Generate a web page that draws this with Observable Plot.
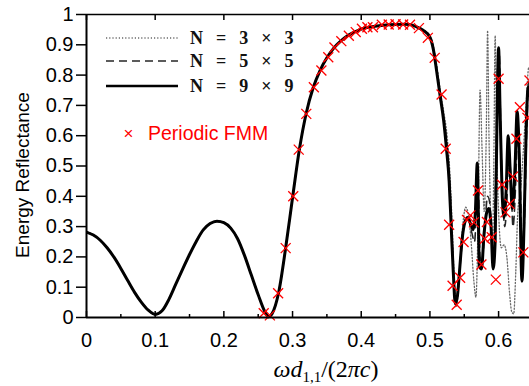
<!DOCTYPE html>
<html><head><meta charset="utf-8">
<script src="https://cdn.jsdelivr.net/npm/d3@7"></script>
<script src="https://cdn.jsdelivr.net/npm/@observablehq/plot@0.6"></script>
<style>body{margin:0;background:#fff;} svg{display:block;}</style>
</head><body><div id="chart"></div>
<script>
// ---- data ----
const xTicks = [0, 0.1, 0.2, 0.3, 0.4, 0.5, 0.6];
const xMinorTicks = [0.05, 0.15, 0.25, 0.35, 0.45, 0.55];
const yTicks = [0, 0.1, 0.2, 0.3, 0.4, 0.5, 0.6, 0.7, 0.8, 0.9, 1];
const seriesNames = ["N = 3 × 3", "N = 5 × 5", "N = 9 × 9"];
const fmmName = "Periodic FMM";

// shared smooth part (all N coincide)
const smoothX = [0,0.01,0.02,0.03,0.04,0.05,0.06,0.07,0.08,0.09,0.10,0.11,0.12,0.13,0.14,0.15,0.16,0.17,0.18,0.19,0.20,0.21,0.22,0.23,0.24,0.25,0.26,0.265,0.27,0.28,0.29,0.30,0.31,0.32,0.33,0.34,0.35,0.36,0.37,0.38,0.39,0.40,0.42,0.44,0.46,0.47,0.48,0.49];
const smoothY = [0.282,0.272,0.255,0.230,0.199,0.162,0.122,0.083,0.050,0.024,0.010,0.022,0.060,0.110,0.160,0.208,0.252,0.289,0.310,0.318,0.313,0.295,0.260,0.205,0.140,0.075,0.018,0.003,0.012,0.085,0.230,0.395,0.555,0.675,0.758,0.815,0.857,0.889,0.912,0.930,0.942,0.952,0.961,0.966,0.968,0.967,0.960,0.948];

// N = 3x3 (dotted) beyond the band edge
const n3X = [0.500,0.505,0.510,0.515,0.520,0.525,0.529,0.532,0.535,0.538,0.541,0.545,0.549,0.552,0.556,0.560,0.564,0.567,0.570,0.573,0.576,0.579,0.582,0.584,0.586,0.589,0.591,0.593,0.595,0.597,0.600,0.604,0.608,0.612,0.616,0.619,0.622,0.625,0.628,0.632,0.636,0.640,0.644,0.648];
const n3Y = [0.930,0.895,0.830,0.750,0.680,0.600,0.480,0.330,0.150,0.034,0.080,0.220,0.330,0.364,0.340,0.250,0.120,0.067,0.300,0.750,0.550,0.350,0.600,0.947,0.600,0.300,0.220,0.500,0.930,0.600,0.350,0.230,0.240,0.200,0.080,0.020,0.012,0.150,0.350,0.420,0.550,0.700,0.826,0.800];

// N = 5x5 (dashed)
const n5X = [0.500,0.505,0.510,0.515,0.520,0.525,0.529,0.532,0.535,0.538,0.541,0.545,0.549,0.553,0.557,0.561,0.565,0.568,0.570,0.573,0.576,0.580,0.584,0.587,0.590,0.593,0.596,0.599,0.601,0.603,0.606,0.609,0.612,0.615,0.618,0.621,0.625,0.628,0.631,0.635,0.638,0.641,0.644,0.648];
const n5Y = [0.928,0.890,0.820,0.740,0.660,0.570,0.440,0.280,0.120,0.050,0.090,0.200,0.290,0.330,0.320,0.280,0.250,0.380,0.470,0.200,0.180,0.300,0.400,0.380,0.260,0.190,0.500,0.850,0.870,0.620,0.400,0.300,0.380,0.550,0.450,0.300,0.450,0.640,0.500,0.180,0.350,0.620,0.780,0.740];

// N = 9x9 (solid)
const n9X = [0.500,0.505,0.510,0.515,0.520,0.524,0.528,0.531,0.534,0.537,0.540,0.543,0.547,0.551,0.555,0.559,0.563,0.566,0.569,0.572,0.575,0.579,0.583,0.586,0.589,0.592,0.595,0.598,0.600,0.602,0.605,0.608,0.611,0.614,0.617,0.620,0.624,0.627,0.630,0.634,0.637,0.640,0.643,0.648];
const n9Y = [0.925,0.885,0.810,0.730,0.650,0.560,0.450,0.300,0.150,0.045,0.070,0.150,0.260,0.315,0.330,0.310,0.290,0.340,0.510,0.170,0.160,0.280,0.350,0.360,0.300,0.160,0.250,0.700,0.890,0.700,0.420,0.330,0.420,0.600,0.480,0.360,0.500,0.680,0.540,0.120,0.300,0.600,0.760,0.700];

// Periodic FMM markers
const fmmX = [0.258,0.267,0.279,0.290,0.301,0.309,0.320,0.331,0.342,0.352,0.361,0.371,0.382,0.392,0.401,0.409,0.417,0.430,0.440,0.450,0.461,0.471,0.484,0.497,0.507,0.517,0.523,0.528,0.533,0.539,0.544,0.549,0.554,0.559,0.564,0.570,0.575,0.580,0.583,0.590,0.596,0.600,0.605,0.610,0.616,0.621,0.626,0.631,0.636,0.642,0.645];
const fmmY = [0.014,0.007,0.080,0.229,0.400,0.554,0.672,0.760,0.815,0.859,0.891,0.912,0.930,0.942,0.953,0.958,0.958,0.966,0.967,0.968,0.967,0.966,0.955,0.923,0.857,0.736,0.557,0.306,0.105,0.042,0.131,0.249,0.322,0.337,0.314,0.419,0.175,0.260,0.315,0.265,0.125,0.788,0.438,0.347,0.375,0.465,0.590,0.694,0.215,0.659,0.782];

// ---- build tables ----
const smooth = smoothX.map((x, i) => ({x, y: smoothY[i]}));
const mk = (xs, ys) => smooth.concat(xs.map((x, i) => ({x, y: ys[i]})));
const n3 = mk(n3X, n3Y), n5 = mk(n5X, n5Y), n9 = mk(n9X, n9Y);
const fmm = fmmX.map((x, i) => ({x, y: fmmY[i]}));
const fmt = d => String(+d.toFixed(2));

const styles = [
  {stroke: "#6a6a6a", strokeWidth: 1.3, strokeDasharray: "1.2 2"},
  {stroke: "#262626", strokeWidth: 1.6, strokeDasharray: "8 5"},
  {stroke: "#000", strokeWidth: 3, strokeDasharray: null}
];

const chart = Plot.plot({
  width: 529, height: 386,
  marginLeft: 86, marginRight: 0, marginTop: 14, marginBottom: 69,
  x: {domain: [0, 0.645], label: null},
  y: {domain: [0, 1], label: null},
  style: {fontFamily: "'Liberation Sans', Arial, sans-serif", fontSize: "20px", color: "#000", background: "#fff"},
  marks: [
    Plot.axisY({ticks: yTicks, tickSize: 10, tickPadding: 3, tickFormat: fmt, label: null, strokeWidth: 1.5}),
    Plot.axisX({ticks: xTicks, tickSize: 0, tickPadding: 15, tickFormat: fmt, label: null}),
    Plot.axisX({ticks: xTicks, tickSize: -6, tickFormat: () => "", label: null, strokeWidth: 1.5}),
    Plot.axisX({ticks: xMinorTicks, tickSize: -3, tickFormat: () => "", label: null, strokeWidth: 1.5}),
    Plot.axisX({anchor: "top", ticks: xTicks, tickSize: -5, tickFormat: () => "", label: null, strokeWidth: 1.5}),
    Plot.line(n3, {x: "x", y: "y", curve: "monotone-x", clip: true, ...styles[0]}),
    Plot.line(n5, {x: "x", y: "y", curve: "monotone-x", clip: true, ...styles[1]}),
    Plot.line(n9, {x: "x", y: "y", curve: "monotone-x", clip: true, ...styles[2]}),
    Plot.dot(fmm, {x: "x", y: "y", symbol: "times", r: 4.6, stroke: "#ff0000", strokeWidth: 1.3}),
    Plot.ruleX([0], {stroke: "#000", strokeWidth: 2}),
    Plot.ruleY([0], {stroke: "#000", strokeWidth: 2}),
    Plot.ruleY([1], {stroke: "#000", strokeWidth: 1.6})
  ]
});
document.getElementById("chart").appendChild(chart);

// ---- labels and legend ----
const svg = d3.select(chart);
svg.append("text")
  .attr("transform", "translate(22,175) rotate(-90)")
  .attr("text-anchor", "middle").attr("dominant-baseline", "central")
  .style("font", "19px 'Liberation Sans', Arial, sans-serif").attr("fill", "#000")
  .text("Energy Reflectance");

const xl = svg.append("text").attr("x", 326).attr("y", 377).attr("text-anchor", "middle")
  .style("font-family", "'Liberation Serif', 'DejaVu Serif', serif").style("font-size", "24px").attr("fill", "#000");
xl.append("tspan").style("font-style", "italic").text("ωd");
xl.append("tspan").attr("dy", 5).style("font-size", "15px").text("1,1");
xl.append("tspan").attr("dy", -5).text("/(2");
xl.append("tspan").style("font-style", "italic").text("πc");
xl.append("tspan").text(")");

const legendY = [38, 61, 86];
seriesNames.forEach((name, i) => {
  const s = styles[i];
  svg.append("line").attr("x1", 106).attr("x2", 178).attr("y1", legendY[i]).attr("y2", legendY[i])
    .attr("stroke", s.stroke).attr("stroke-width", i === 2 ? 2.6 : s.strokeWidth)
    .attr("stroke-dasharray", s.strokeDasharray);
  svg.append("text").attr("x", 190).attr("y", legendY[i]).attr("text-anchor", "start").attr("dominant-baseline", "central")
    .style("font", "bold 18px 'Liberation Serif', serif").style("word-spacing", "8.5px")
    .attr("fill", "#111").text(name);
});
svg.append("text").attr("x", 128.5).attr("y", 133).attr("text-anchor", "middle").attr("dominant-baseline", "central")
  .style("font", "17px 'Liberation Sans', Arial, sans-serif").attr("fill", "#ff0000").text("×");
svg.append("text").attr("x", 148).attr("y", 133).attr("text-anchor", "start").attr("dominant-baseline", "central")
  .style("font", "19.5px 'Liberation Sans', Arial, sans-serif").attr("fill", "#ff0000").text(fmmName);
</script>
</body></html>
